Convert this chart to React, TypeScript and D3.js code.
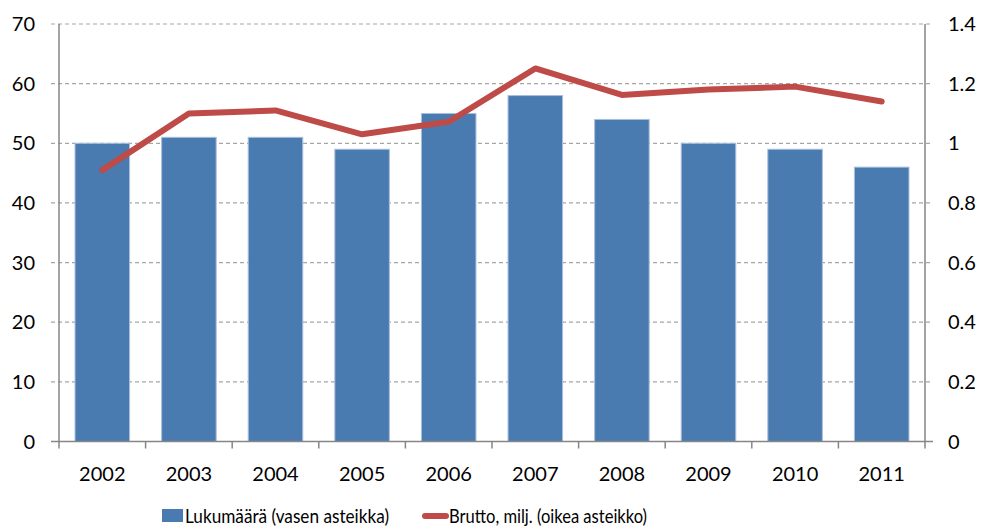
import React from "react";
import * as d3 from "d3";

const years = ["2002", "2003", "2004", "2005", "2006", "2007", "2008", "2009", "2010", "2011"];
const counts = [50, 51, 51, 49, 55, 58, 54, 50, 49, 46];
const gross = [0.91, 1.1, 1.11, 1.03, 1.072, 1.251, 1.162, 1.18, 1.19, 1.14];
const leftTicks = [0, 10, 20, 30, 40, 50, 60, 70];
const rightTicks = [0, 0.2, 0.4, 0.6, 0.8, 1, 1.2, 1.4];
const legendLabels = ["Lukumäärä (vasen asteikka)", "Brutto, milj. (oikea asteikko)"];

const W = 981;
const H = 529;
const L = 59;
const R = 925;
const T = 24;
const B = 441.5;
const FONT = "Lato, 'Open Sans', sans-serif";

export default function App() {
  const x = d3.scaleBand<string>().domain(years).range([L, R]).paddingInner(0.37).paddingOuter(0.185);
  const xb = d3.scaleBand<string>().domain(years).range([L, R]);
  const yL = d3.scaleLinear().domain([0, 70]).range([B, T]);
  const yR = d3.scaleLinear().domain([0, 1.4]).range([B, T]);
  const line = d3
    .line<number>()
    .x((_, i) => (xb(years[i]) as number) + xb.bandwidth() / 2)
    .y((d) => yR(d));

  return (
    <div style={{ position: "absolute", left: 0, top: 0 }}>
      <svg width={W} height={H} style={{ display: "block" }}>
        <rect width={W} height={H} fill="#fff" />
        {leftTicks.map((t) => (
          <g key={t}>
            {t > 0 && (
              <line x1={51} x2={933} y1={yL(t)} y2={yL(t)} stroke="#a6a6a6" strokeWidth={1.2} strokeDasharray="4,3" />
            )}
            <text x={35} y={yL(t)} dy="0.35em" textAnchor="end" fontFamily={FONT} fontSize={20} fill="#000">
              {t}
            </text>
          </g>
        ))}
        {rightTicks.map((t) => (
          <text key={t} x={948} y={yR(t)} dy="0.35em" textAnchor="start" fontFamily={FONT} fontSize={20} fill="#000">
            {t}
          </text>
        ))}
        {years.map((y, i) => (
          <rect
            key={y}
            x={x(y)}
            y={yL(counts[i])}
            width={x.bandwidth()}
            height={B - yL(counts[i])}
            fill="#4a7bb0"
            stroke="#a9c0dc"
            strokeWidth={1}
          />
        ))}
        <line x1={L} x2={L} y1={T} y2={B} stroke="#868686" strokeWidth={1.5} />
        <line x1={R} x2={R} y1={T} y2={B} stroke="#868686" strokeWidth={1.5} />
        <line x1={51} x2={933} y1={B} y2={B} stroke="#868686" strokeWidth={1.5} />
        {years.concat(["end"]).map((y, i) => (
          <line
            key={"tk" + i}
            x1={L + i * xb.bandwidth()}
            x2={L + i * xb.bandwidth()}
            y1={B}
            y2={B + 7}
            stroke="#868686"
            strokeWidth={1.5}
          />
        ))}
        {years.map((y) => (
          <text
            key={"xl" + y}
            x={(xb(y) as number) + xb.bandwidth() / 2}
            y={481}
            textAnchor="middle"
            fontFamily={FONT}
            fontSize={20}
            fill="#000"
          >
            {y}
          </text>
        ))}
        <path d={line(gross) || ""} fill="none" stroke="#be4b48" strokeWidth={6} strokeLinejoin="round" strokeLinecap="round" />
        <rect x={162} y={509} width={21} height={13} fill="#4a7bb0" />
        <text x={185} y={523} fontFamily={FONT} fontSize={19} textLength={204} lengthAdjust="spacingAndGlyphs" fill="#000">
          {legendLabels[0]}
        </text>
        <line x1={425} x2={446} y1={516} y2={516} stroke="#be4b48" strokeWidth={6} strokeLinecap="round" />
        <text x={449} y={523} fontFamily={FONT} fontSize={19} textLength={198} lengthAdjust="spacingAndGlyphs" fill="#000">
          {legendLabels[1]}
        </text>
      </svg>
    </div>
  );
}
